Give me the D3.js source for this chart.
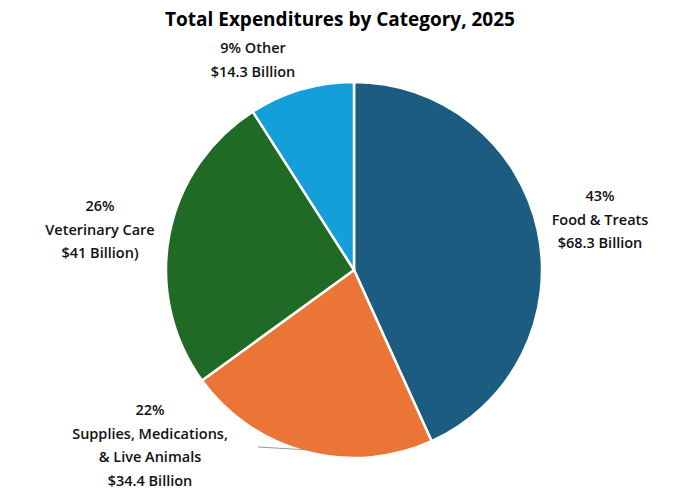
<!DOCTYPE html>
<html><head><meta charset="utf-8">
<script src="https://cdn.jsdelivr.net/npm/d3@7"></script>
<style>body{margin:0;background:#fff}</style>
</head><body>
<svg id="chart"></svg>
<script>
const categories = ["Food & Treats", "Supplies, Medications, & Live Animals", "Veterinary Care", "Other"];
const values = [68.3, 34.4, 41, 14.3];
const colors = ["#1b5c80", "#eb7536", "#1f6b26", "#149fd9"];
const labelLines = [
  ["43%", "Food & Treats", "$68.3 Billion"],
  ["22%", "Supplies, Medications,", "& Live Animals", "$34.4 Billion"],
  ["26%", "Veterinary Care", "$41 Billion)"],
  ["9% Other", "$14.3 Billion"]
];
const labelPos = [[600, 196], [150, 410], [100, 206], [253, 48]];

const width = 680, height = 497;
const cx = 354, cy = 270, r = 188;

const svg = d3.select("#chart").attr("width", width).attr("height", height)
  .style("font-family", "'Open Sans', sans-serif");

svg.append("text")
  .attr("x", width / 2).attr("y", 26)
  .attr("text-anchor", "middle")
  .style("font-size", "19px").style("font-weight", "bold")
  .text("Total Expenditures by Category, 2025");

const pie = d3.pie().sort(null).value(d => d)(values);
const arc = d3.arc().innerRadius(0).outerRadius(r);

const g = svg.append("g").attr("transform", `translate(${cx},${cy})`);
g.selectAll("path").data(pie).enter().append("path")
  .attr("d", arc)
  .attr("fill", (d, i) => colors[i])
  .attr("stroke", "#fff").attr("stroke-width", 2.5);

// leader line for the supplies label, to the middle of its slice edge
const sup = pie[1];
const ang = (sup.startAngle + sup.endAngle) / 2;
g.append("line")
  .attr("x1", 258 - cx).attr("y1", 447 - cy)
  .attr("x2", Math.sin(ang) * (r - 2)).attr("y2", -Math.cos(ang) * (r - 2))
  .attr("stroke", "#999").attr("stroke-width", 1);

labelLines.forEach((lines, i) => {
  const t = svg.append("text")
    .attr("text-anchor", "middle")
    .style("font-size", "14.5px").style("font-weight", 600).attr("fill", "#111");
  lines.forEach((s, j) => {
    t.append("tspan").attr("x", labelPos[i][0]).attr("y", labelPos[i][1] + 5 + j * 23.5).text(s);
  });
});
</script>
</body></html>
